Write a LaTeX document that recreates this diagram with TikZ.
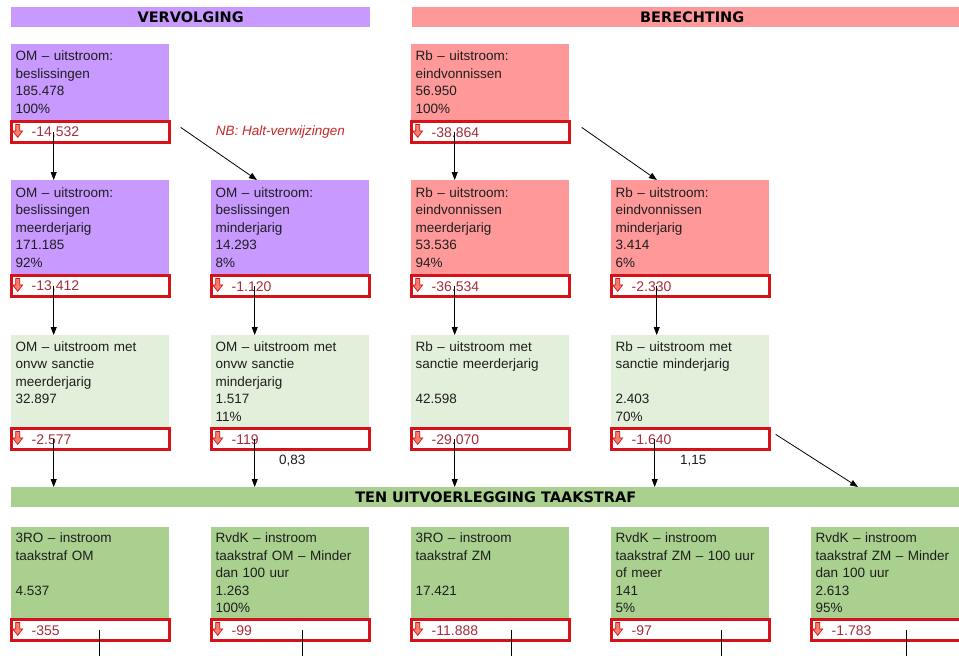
\documentclass[tikz,border=0pt]{standalone}
\usepackage{fontspec}
\setmainfont{Liberation Sans}
\newfontfamily\kopfont{DejaVu Sans}
\usetikzlibrary{positioning,arrows.meta}

\definecolor{paars}{RGB}{200,153,255}
\definecolor{roze}{RGB}{255,153,153}
\definecolor{lichtgroen}{RGB}{226,239,218}
\definecolor{groen}{RGB}{169,208,142}
\definecolor{rand}{RGB}{214,18,24}
\definecolor{verliesrood}{RGB}{165,45,60}
\definecolor{icoon}{RGB}{246,128,108}
\definecolor{tekst}{RGB}{30,30,30}
\definecolor{nbrood}{RGB}{200,40,40}

\newcommand{\tekstfont}{\fontsize{13.5}{17.5}\selectfont}

\tikzset{
  balk/.style={anchor=north west, fill=#1, minimum height=20pt, inner sep=0pt,
    font=\kopfont\bfseries\fontsize{14.5}{16}\selectfont},
  vak/.style={anchor=north west, fill=#1, minimum width=158pt, text width=149pt,
    inner xsep=4.5pt, inner ysep=0pt, align=left, font=\tekstfont, text=tekst},
  verlies/.style={below=0pt of #1, draw=rand, line width=3pt, fill=white,
    minimum width=158pt, minimum height=21pt, text width=117pt,
    inner xsep=20.5pt, inner ysep=0pt, align=left,
    font=\fontsize{14}{17}\selectfont, text=verliesrood},
  pijl/.style={-{Triangle[length=8pt,width=6pt]}, line width=0.8pt},
  lijn/.style={line width=0.8pt},
  pijltje/.pic={
    \filldraw[fill=icoon, draw=rand, line width=0.7pt]
      (-2,-6.5) -- (2,-6.5) -- (2,0) -- (5,0) -- (0,6.5) -- (-5,0) -- (-2,0) -- cycle;
  }
}

\begin{document}
\begin{tikzpicture}[x=1pt, y=-1pt]
\path[use as bounding box, fill=white] (0,0) rectangle (959,656);

% koppen
\node[balk=paars, minimum width=359pt] (vervolging) at (11,7) {VERVOLGING};
\node[balk=roze, minimum width=560pt] (berechting) at (412,7) {BERECHTING};
\node[balk=groen, minimum width=969pt] (ten) at (11,487) {TEN UITVOERLEGGING TAAKSTRAF};

% rij 1
\node[vak=paars, minimum height=76pt] (b11) at (11,44) {OM – uitstroom:\\beslissingen\\185.478\\100\%};
\node[verlies=b11] (r11) {-14,532};
\node[vak=roze, minimum height=76pt] (b13) at (411,44) {Rb – uitstroom:\\eindvonnissen\\56.950\\100\%};
\node[verlies=b13] (r13) {-38.864};
\node[right=45pt of r11, font=\tekstfont\itshape, text=nbrood, inner sep=0pt] (nb) {NB: Halt-verwijzingen};

% rij 2
\node[vak=paars, minimum height=94pt] (b21) at (11,180) {OM – uitstroom:\\beslissingen\\meerderjarig\\171.185\\92\%};
\node[verlies=b21] (r21) {-13,412};
\node[vak=paars, minimum height=94pt] (b22) at (211,180) {OM – uitstroom:\\beslissingen\\minderjarig\\14.293\\8\%};
\node[verlies=b22] (r22) {-1.120};
\node[vak=roze, minimum height=94pt] (b23) at (411,180) {Rb – uitstroom:\\eindvonnissen\\meerderjarig\\53.536\\94\%};
\node[verlies=b23] (r23) {-36.534};
\node[vak=roze, minimum height=94pt] (b24) at (611,180) {Rb – uitstroom:\\eindvonnissen\\minderjarig\\3.414\\6\%};
\node[verlies=b24] (r24) {-2.330};

% rij 3
\node[vak=lichtgroen, minimum height=92pt] (b31) at (11,335) {OM – uitstroom met\\onvw sanctie\\meerderjarig\\32.897\\\mbox{}};
\node[verlies=b31] (r31) {-2.577};
\node[vak=lichtgroen, minimum height=92pt] (b32) at (211,335) {OM – uitstroom met\\onvw sanctie\\minderjarig\\1.517\\11\%};
\node[verlies=b32] (r32) {-119};
\node[vak=lichtgroen, minimum height=92pt] (b33) at (411,335) {Rb – uitstroom met\\sanctie meerderjarig\\\mbox{}\\42.598\\\mbox{}};
\node[verlies=b33] (r33) {-29.070};
\node[vak=lichtgroen, minimum height=92pt] (b34) at (611,335) {Rb – uitstroom met\\sanctie minderjarig\\\mbox{}\\2.403\\70\%};
\node[verlies=b34] (r34) {-1.640};
\node[below=0pt of r32, xshift=2pt, font=\tekstfont, text=tekst] (f32) {0,83};
\node[below=0pt of r34, xshift=3pt, font=\tekstfont, text=tekst] (f34) {1,15};

% rij 4
\node[vak=groen, minimum height=91pt] (b41) at (11,527) {3RO – instroom\\taakstraf OM\\\mbox{}\\4.537\\\mbox{}};
\node[verlies=b41] (r41) {-355};
\node[vak=groen, minimum height=91pt] (b42) at (211,527) {RvdK – instroom\\taakstraf OM – Minder\\dan 100 uur\\1.263\\100\%};
\node[verlies=b42] (r42) {-99};
\node[vak=groen, minimum height=91pt] (b43) at (411,527) {3RO – instroom\\taakstraf ZM\\\mbox{}\\17.421\\\mbox{}};
\node[verlies=b43] (r43) {-11.888};
\node[vak=groen, minimum height=91pt] (b44) at (611,527) {RvdK – instroom\\taakstraf ZM – 100 uur\\of meer\\141\\5\%};
\node[verlies=b44] (r44) {-97};
\node[vak=groen, minimum height=91pt] (b45) at (811,527) {RvdK – instroom\\taakstraf ZM – Minder\\dan 100 uur\\2.613\\95\%};
\node[verlies=b45] (r45) {-1.783};

\foreach \r in {r11,r13,r21,r22,r23,r24,r31,r32,r33,r34,r41,r42,r43,r44,r45}
  \pic at ([xshift=8pt,yshift=1.5pt]\r.west) {pijltje};

% pijlen
\draw[pijl] ([xshift=44pt]r11.west) coordinate (s11) -- (s11 |- b21.north);
\draw[pijl] ([xshift=10pt,yshift=5pt]r11.east) -- ([xshift=46pt]b22.north west);
\draw[pijl] ([xshift=45pt]r13.west) coordinate (s13) -- (s13 |- b23.north);
\draw[pijl] ([xshift=11pt,yshift=5pt]r13.east) -- ([xshift=46pt]b24.north west);

\draw[pijl] ([xshift=44pt]r21.west) coordinate (s21) -- (s21 |- b31.north);
\draw[pijl] ([xshift=45pt]r22.west) coordinate (s22) -- (s22 |- b32.north);
\draw[pijl] ([xshift=45pt]r23.west) coordinate (s23) -- (s23 |- b33.north);
\draw[pijl] ([xshift=47pt]r24.west) coordinate (s24) -- (s24 |- b34.north);

\draw[pijl] ([xshift=44pt]r31.west) coordinate (s31) -- (s31 |- ten.north);
\draw[pijl] ([xshift=45pt]r32.west) coordinate (s32) -- (s32 |- ten.north);
\draw[pijl] ([xshift=45pt]r33.west) coordinate (s33) -- (s33 |- ten.north);
\draw[pijl] ([xshift=45pt]r34.west) coordinate (s34) -- (s34 |- ten.north);
\draw[pijl] ([xshift=5pt,yshift=5pt]r34.east) -- ([xshift=847pt]ten.north west);

\coordinate (onder) at (0,656);
\draw[lijn] ([xshift=90pt]r41.west) coordinate (s41) -- (s41 |- onder);
\draw[lijn] ([xshift=93pt]r42.west) coordinate (s42) -- (s42 |- onder);
\draw[lijn] ([xshift=102pt]r43.west) coordinate (s43) -- (s43 |- onder);
\draw[lijn] ([xshift=112pt]r44.west) coordinate (s44) -- (s44 |- onder);
\draw[lijn] ([xshift=97pt]r45.west) coordinate (s45) -- (s45 |- onder);
\end{tikzpicture}
\end{document}
